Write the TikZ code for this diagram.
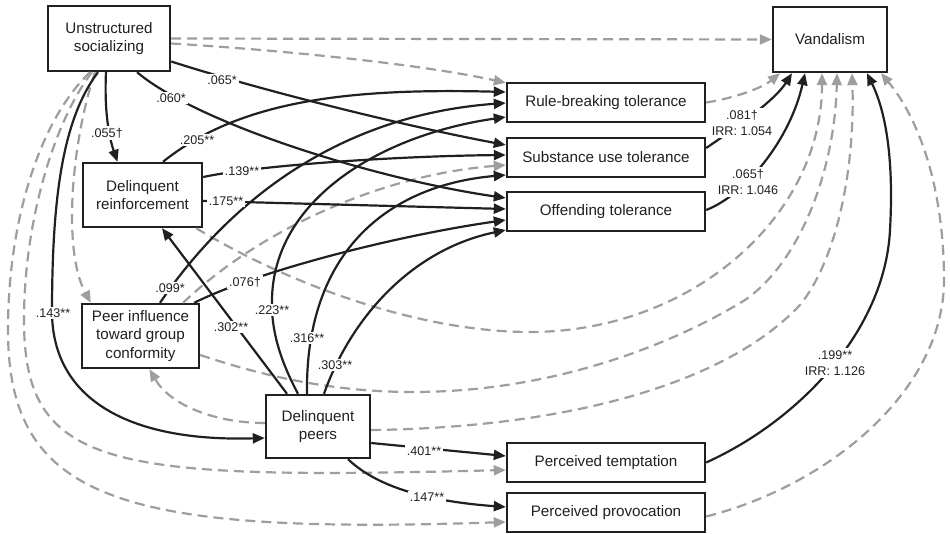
\documentclass[tikz,border=0pt]{standalone}
\usepackage{fontspec}
\setmainfont{Liberation Sans}
\usetikzlibrary{arrows.meta}
\definecolor{ink}{RGB}{35,31,32}
\definecolor{lgray}{RGB}{158,158,158}
\begin{document}
\begin{tikzpicture}[x=1pt,y=-1pt,
  box/.style={draw=ink, line width=2.4pt, fill=white, inner sep=0pt, align=center,
    text=ink, font=\fontsize{15.2}{18.5}\selectfont},
  arr/.style={draw=ink, line width=2.2pt, -{Triangle[length=12pt,width=10pt]}},
  darr/.style={draw=lgray, line width=2.2pt, dash pattern=on 10pt off 6pt,
    -{Triangle[length=12pt,width=10pt]}},
  lab/.style={fill=white, inner sep=2pt, align=center, text=ink,
    font=\fontsize{12.6}{16.5}\selectfont}]
\useasboundingbox (0,0) rectangle (950,534);
\fill[white] (0,0) rectangle (950,534);

% variables
\node[box, minimum width=122pt, minimum height=65pt] (us) at (109,38.5) {Unstructured\\socializing};
\node[box, minimum width=114pt, minimum height=65pt] (van) at (830,39.5) {Vandalism};
\node[box, minimum width=119pt, minimum height=64pt] (dr) at (142.5,195) {Delinquent\\reinforcement};
\node[box, minimum width=117pt, minimum height=64pt] (pi) at (140.5,336) {Peer influence\\toward group\\conformity};
\node[box, minimum width=104pt, minimum height=63pt] (dp) at (318,426.5) {Delinquent\\peers};
\node[box, minimum width=198pt, minimum height=39pt] (rb) at (606,102.5) {Rule-breaking tolerance};
\node[box, minimum width=198pt, minimum height=39pt] (su) at (606,157.5) {Substance use tolerance};
\node[box, minimum width=198pt, minimum height=39pt] (ot) at (606,211.5) {Offending tolerance};
\node[box, minimum width=198pt, minimum height=39pt] (pt) at (606,462.5) {Perceived temptation};
\node[box, minimum width=198pt, minimum height=39pt] (pp) at (606,512.5) {Perceived provocation};

% non-significant paths (dashed)
\draw[darr] (us.east) -- (van.west);
\draw[darr] ([yshift=-5pt]us.east) .. controls (280,50) and (420,64) .. ([yshift=-1pt]rb.north west);
\draw[darr] ([xshift=-14pt]us.south) .. controls (72,140) and (62,250) .. ([xshift=10pt]pi.north west);
\draw[darr] ([xshift=-17pt]us.south) .. controls (55,120) and (24,220) .. (24,320)
  .. controls (24,470) and (110,480) .. ([yshift=-7.5pt]pt.west);
\draw[darr] ([xshift=-19pt]us.south) .. controls (40,120) and (8,220) .. (8,330)
  .. controls (8,500) and (120,535) .. ([yshift=-9.5pt]pp.west);
\draw[darr] ([yshift=3.5pt]dp.west) .. controls (215,423) and (170,405) .. ([xshift=9pt]pi.south);
\draw[darr] ([xshift=42.5pt]pi.north) .. controls (260,230) and (380,175) .. ([yshift=-7.5pt]su.west);
\draw[darr] ([xshift=-7pt]dr.south east) .. controls (290,285) and (420,332) .. (530,332)
  .. controls (691,332) and (822,217) .. ([xshift=-8pt]van.south);
\draw[darr] ([yshift=-19pt]pi.east) .. controls (260,375) and (330,392) .. (413,392)
  .. controls (560,392) and (680,340) .. (745,300)
  .. controls (800,262) and (835,170) .. ([xshift=7pt]van.south);
\draw[darr] ([yshift=-3.5pt]dp.east) .. controls (550,428) and (720,390) .. (800,305)
  .. controls (840,255) and (855,160) .. ([xshift=22pt]van.south);
\draw[darr] (rb.east) .. controls (735,98) and (762,88) .. ([xshift=-50pt]van.south);
\draw[darr] ([yshift=-4pt]pp.east) .. controls (830,485) and (944,390) .. (944,280)
  .. controls (944,190) and (920,120) .. ([xshift=51pt]van.south);

% significant paths (solid)
\draw[arr] ([xshift=-3pt]us.south) .. controls (104,115) and (110,140) .. ([xshift=-25pt]dr.north);
\draw[arr] ([xshift=-11pt]us.south) .. controls (62,120) and (52,200) .. (52,313)
  .. controls (53,400) and (130,442) .. ([yshift=-11.5pt]dp.west);
\draw[arr] ([yshift=-23pt]us.east) .. controls (260,90) and (400,125) .. ([yshift=12.5pt]su.west);
\draw[arr] ([xshift=28pt]us.south) .. controls (200,125) and (380,180) .. ([yshift=13.5pt]ot.west);
\draw[arr] ([xshift=20.5pt]dr.north) .. controls (240,100) and (350,88) .. ([yshift=10.5pt]rb.west);
\draw[arr] ([yshift=18pt]dr.east) .. controls (260,165) and (400,156) .. ([yshift=2.5pt]su.west);
\draw[arr] ([yshift=-6pt]dr.east) -- ([yshift=2.5pt]ot.west);
\draw[arr] ([xshift=-31pt]dp.north) -- ([xshift=19.5pt]dr.south);
\draw[arr] ([xshift=-20pt]dp.north) .. controls (280,360) and (271,330) .. (272,300)
  .. controls (273,200) and (380,135) .. ([yshift=-14.5pt]rb.west);
\draw[arr] ([xshift=-11pt]dp.north) .. controls (305,250) and (390,185) .. ([yshift=-17.5pt]su.west);
\draw[arr] ([xshift=6pt]dp.north) .. controls (350,320) and (410,250) .. ([yshift=-18.5pt]ot.west);
\draw[arr] ([xshift=19.5pt]pi.north) .. controls (230,200) and (340,115) .. ([yshift=-0.5pt]rb.west);
\draw[arr] ([xshift=-6pt]pi.north east) .. controls (260,270) and (400,235) .. ([yshift=-8.5pt]ot.west);
\draw[arr] ([yshift=9.5pt]su.east) .. controls (740,125) and (775,100) .. ([xshift=-38pt]van.south);
\draw[arr] ([yshift=1.5pt]ot.east) .. controls (745,195) and (790,140) .. ([xshift=-25pt]van.south);
\draw[arr] (pt.east) .. controls (800,420) and (885,330) .. (890,230)
  .. controls (895,140) and (880,100) .. ([xshift=37pt]van.south);
\draw[arr] ([yshift=-16.5pt]dp.east) -- ([yshift=6.5pt]pt.west);
\draw[arr] ([xshift=30pt]dp.south) .. controls (370,480) and (410,500) .. ([yshift=5.5pt]pp.west);

% coefficients
\node[lab] (c055) at (107,133) {.055†};
\node[lab] (c143) at (53,313) {.143**};
\node[lab] (c065) at (222,80) {.065*};
\node[lab] (c060) at (171,98) {.060*};
\node[lab] (c205) at (197,140) {.205**};
\node[lab] (c139) at (242,171) {.139**};
\node[lab] (c175) at (226,201) {.175**};
\node[lab] (c302) at (231,327) {.302**};
\node[lab] (c223) at (272,310) {.223**};
\node[lab] (c316) at (307,338) {.316**};
\node[lab] (c303) at (335,365) {.303**};
\node[lab] (c099) at (170,288) {.099*};
\node[lab] (c076) at (245,282) {.076†};
\node[lab] (c081) at (742,123) {.081†\\IRR: 1.054};
\node[lab] (c065b) at (748,182) {.065†\\IRR: 1.046};
\node[lab] (c199) at (835,363) {.199**\\IRR: 1.126};
\node[lab] (c401) at (424,451) {.401**};
\node[lab] (c147) at (427,497) {.147**};
\end{tikzpicture}
\end{document}
